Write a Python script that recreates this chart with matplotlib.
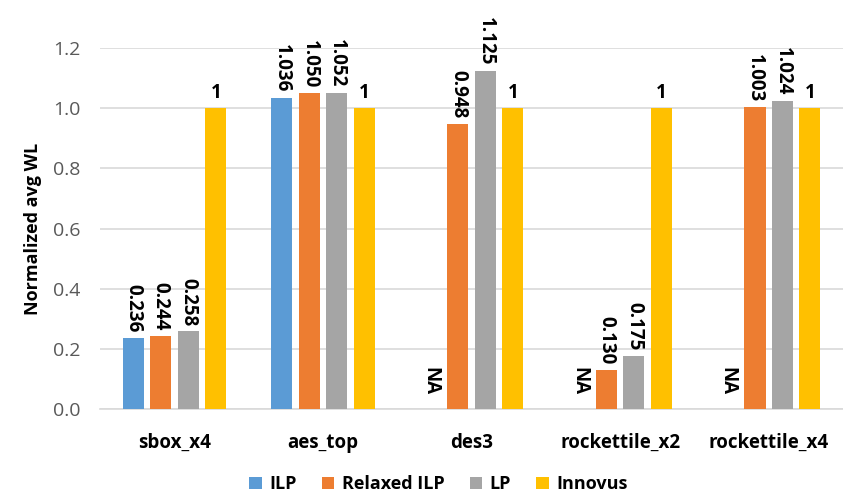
import numpy as np
import matplotlib
matplotlib.use("Agg")
import matplotlib.pyplot as plt
from matplotlib.patches import Patch

plt.rcParams['font.family'] = ['Open Sans', 'DejaVu Sans']

designs = ["sbox_x4", "aes_top", "des3", "rockettile_x2", "rockettile_x4"]
ilp = [0.236, 1.036, None, None, None]
relaxed_ilp = [0.244, 1.050, 0.948, 0.130, 1.003]
lp = [0.258, 1.052, 1.125, 0.175, 1.024]
innovus = [1, 1, 1, 1, 1]

series_names = ["ILP", "Relaxed ILP", "LP", "Innovus"]
series_vals = [ilp, relaxed_ilp, lp, innovus]
colors = ["#5b9bd5", "#ed7d31", "#a5a5a5", "#ffc000"]

fig = plt.figure(figsize=(8.43, 4.97), dpi=100)
ax = fig.add_axes([0.119, 0.177, 0.881, 0.726])

x = np.arange(len(designs))
pitch = 0.185
width = 0.142
text_color = "#000000"
label_size = 13.5

for i, (name, vals, c) in enumerate(zip(series_names, series_vals, colors)):
    offs = (i - 1.5) * pitch
    for j, v in enumerate(vals):
        xpos = x[j] + offs
        if v is None:
            ax.annotate("NA", (xpos, 0), xytext=(0, 10), textcoords="offset points",
                        ha="center", va="bottom", rotation=270,
                        fontsize=label_size, fontweight="bold", color=text_color)
            continue
        ax.bar(xpos, v, width=width, color=c, zorder=3)
        if name == "Innovus":
            label = f"{v:g}"
            rot = 0
        else:
            label = f"{v:.3f}"
            rot = 270
        ax.annotate(label, (xpos, v), xytext=(0, 4), textcoords="offset points",
                    ha="center", va="bottom", rotation=rot,
                    fontsize=label_size, fontweight="bold", color=text_color)

ax.set_xlim(-0.5, len(designs) - 0.5)
ax.set_ylim(0, 1.2)
ax.set_yticks(np.arange(0, 1.21, 0.2))
ax.set_yticklabels([f"{t:.1f}" for t in np.arange(0, 1.21, 0.2)])
ax.set_xticks(x)
ax.set_xticklabels(designs, fontweight="bold", fontsize=13.5)
ax.tick_params(axis="x", length=0, pad=17)
ax.tick_params(axis="y", length=0, pad=14, labelsize=14, labelcolor="#595959")
ax.yaxis.grid(True, color="#d9d9d9", linewidth=1.2, zorder=0)
for s in ["top", "right", "left"]:
    ax.spines[s].set_visible(False)
ax.spines["bottom"].set_color("#d9d9d9")
ax.spines["bottom"].set_linewidth(1.2)
ax.set_ylabel("Normalized avg WL", fontweight="bold", fontsize=13, labelpad=8)

handles = [Patch(facecolor=c, label=n) for n, c in zip(series_names, colors)]
fig.legend(handles=handles, loc="lower center", bbox_to_anchor=(0.52, -0.025), ncol=4,
           frameon=False, prop={"weight": "bold", "size": 13},
           handlelength=0.7, handleheight=0.7, handletextpad=0.4, columnspacing=1.4)

fig.savefig("out.png", dpi=100)
